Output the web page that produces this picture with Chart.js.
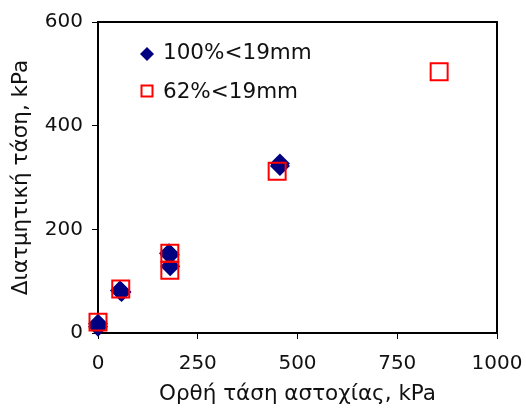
<!DOCTYPE html>
<html>
<head>
<meta charset="utf-8">
<script src="https://cdn.jsdelivr.net/npm/chart.js@4/dist/chart.umd.min.js"></script>
<style>
  html, body { margin: 0; padding: 0; background: #fff; }
</style>
</head>
<body>
<canvas id="shear-chart" width="526" height="408"></canvas>
<script>
// ── Δεδομένα ──────────────────────────────────────────────
const fineLabel = '100%<19mm';
const fineX = [0, 0, 55, 59, 178, 180, 181, 456, 456];
const fineY = [12, 18, 82, 79, 154, 151, 129, 322, 327];

const coarseLabel = '62%<19mm';
const coarseX = [0, 57, 180, 180, 449, 855];
const coarseY = [21, 85, 154, 121, 312, 504];

const xTicks = [0, 250, 500, 750, 1000];
const yTicks = [0, 200, 400, 600];
const xTitle = 'Ορθή τάση αστοχίας, kPa';
const yTitle = 'Διατμητική τάση, kPa';

const FONT = 'DejaVu Sans, Verdana, sans-serif';
const NAVY = '#000080';
const RED = '#FF0000';

const toPoints = (xs, ys) => xs.map((x, i) => ({ x, y: ys[i] }));

// πλαίσιο γύρω από την περιοχή σχεδίασης (πάνω/δεξιά άξονες του Excel)
const framePlugin = {
  id: 'frame',
  beforeDatasetsDraw(chart) {
    const { ctx, chartArea: a } = chart;
    ctx.save();
    ctx.strokeStyle = '#000';
    ctx.lineWidth = 2;
    ctx.strokeRect(a.left, a.top, a.right - a.left, a.bottom - a.top);
    ctx.restore();
  }
};

// υπόμνημα μέσα στην περιοχή σχεδίασης
const insideLegend = {
  id: 'insideLegend',
  afterDraw(chart) {
    const { ctx, chartArea: a } = chart;
    const mx = a.left + 49;
    const tx = a.left + 65;
    const rows = [a.top + 32, a.top + 69];
    ctx.save();
    // ρόμβος
    ctx.fillStyle = NAVY;
    ctx.beginPath();
    ctx.moveTo(mx - 7, rows[0]);
    ctx.lineTo(mx, rows[0] - 7);
    ctx.lineTo(mx + 7, rows[0]);
    ctx.lineTo(mx, rows[0] + 7);
    ctx.closePath();
    ctx.fill();
    // τετράγωνο
    ctx.strokeStyle = RED;
    ctx.lineWidth = 2;
    ctx.strokeRect(mx - 5.5, rows[1] - 5.5, 11, 11);

    ctx.fillStyle = '#111';
    ctx.font = '21.5px ' + FONT;
    ctx.textBaseline = 'middle';
    ctx.fillText(fineLabel, tx, rows[0] - 1);
    ctx.fillText(coarseLabel, tx, rows[1] + 1);
    ctx.restore();
  }
};

const axisGrid = {
  display: true,
  drawOnChartArea: false,
  drawTicks: true,
  tickLength: 6,
  color: '#000',
  lineWidth: 1
};

new Chart(document.getElementById('shear-chart'), {
  type: 'scatter',
  data: {
    datasets: [
      {
        label: coarseLabel,
        data: toPoints(coarseX, coarseY),
        pointStyle: 'rect',
        pointRadius: 12,
        pointBorderWidth: 2,
        pointBorderColor: RED,
        pointBackgroundColor: 'rgba(0,0,0,0)',
        clip: false,
        order: 0
      },
      {
        label: fineLabel,
        data: toPoints(fineX, fineY),
        pointStyle: 'rectRot',
        pointRadius: 10,
        pointBorderWidth: 0,
        pointBackgroundColor: NAVY,
        pointBorderColor: NAVY,
        clip: false,
        order: 1
      }
    ]
  },
  options: {
    responsive: false,
    animation: false,
    devicePixelRatio: 1,
    layout: { padding: { top: 22, right: 29, left: 0, bottom: 0 } },
    plugins: {
      legend: { display: false },
      tooltip: { enabled: false }
    },
    scales: {
      x: {
        type: 'linear',
        min: 0,
        max: 1000,
        afterBuildTicks: s => { s.ticks = xTicks.map(v => ({ value: v })); },
        afterFit: s => { s.height = 75; s.paddingLeft = 0; s.paddingRight = 0; },
        grid: axisGrid,
        border: { display: true, color: '#000', width: 2 },
        ticks: {
          color: '#111',
          padding: 13,
          maxRotation: 0,
          font: { family: FONT, size: 20 },
          callback: v => String(v)
        },
        title: {
          display: true,
          text: xTitle,
          color: '#111',
          font: { family: FONT, size: 21.5 },
          padding: { top: 0, bottom: 1 }
        }
      },
      y: {
        type: 'linear',
        min: 0,
        max: 600,
        afterBuildTicks: s => { s.ticks = yTicks.map(v => ({ value: v })); },
        afterFit: s => { s.width = 98; s.paddingTop = 0; s.paddingBottom = 0; },
        grid: axisGrid,
        border: { display: true, color: '#000', width: 2 },
        ticks: {
          color: '#111',
          padding: 9,
          font: { family: FONT, size: 20 },
          callback: v => String(v)
        },
        title: {
          display: true,
          text: yTitle,
          color: '#111',
          font: { family: FONT, size: 21.5 },
          padding: { top: 9, bottom: 0 }
        }
      }
    }
  },
  plugins: [framePlugin, insideLegend]
});
</script>
</body>
</html>
